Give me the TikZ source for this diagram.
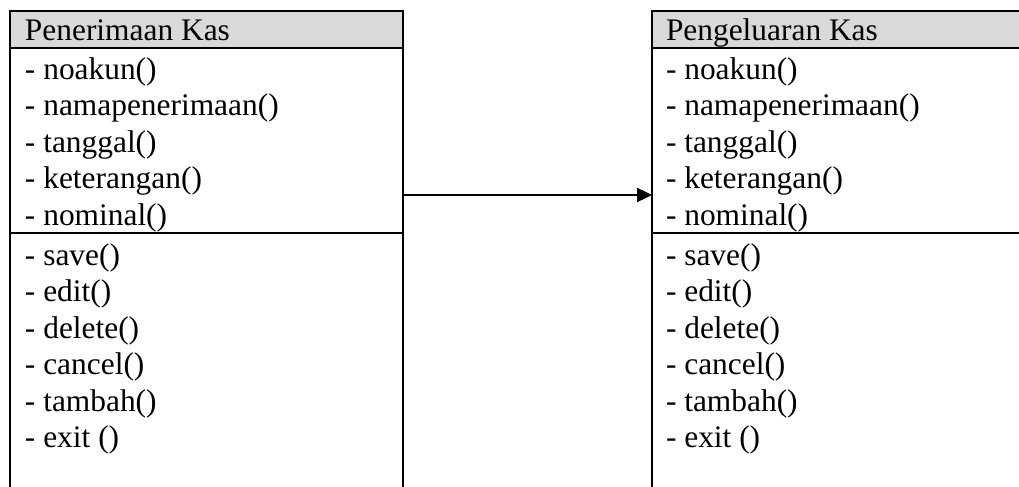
\documentclass[tikz,border=0pt]{standalone}
\usepackage{fontspec}
\setmainfont{Liberation Serif}
\usetikzlibrary{arrows.meta}
\definecolor{headgray}{RGB}{217,217,217}
\begin{document}
\begin{tikzpicture}[x=0.5pt,y=-0.5pt,
  classbox/.style={draw, line width=1.4pt, inner sep=0pt, outer sep=0pt, rectangle},
  headbox/.style={classbox, fill=headgray},
  item/.style={anchor=base west, inner sep=0pt, outer sep=0pt, font=\fontsize{15.7}{18}\selectfont},
  sep/.style={line width=1.4pt},
  link/.style={-{Triangle[length=7.5pt,width=7pt]}, line width=1.2pt}]
\useasboundingbox (0,0) rectangle (1019,487);
\clip (0,0) rectangle (1019,487);
% left class
\node[classbox, minimum width=196.5pt, minimum height=244.5pt] (Lbox) at (206.5,255.5) {};
\node[headbox, minimum width=196.5pt, minimum height=18.5pt] (Lhead) at (206.5,29.5) {};
\draw[sep] (Lbox.west |- 0,233) -- (Lbox.east |- 0,233);
\node[item] (Lt) at (25,40) {Penerimaan Kas};
\node[item] (La1) at (25,79) {- noakun()};
\node[item] (La2) at (25,115.5) {- namapenerimaan()};
\node[item] (La3) at (25,152) {- tanggal()};
\node[item] (La4) at (25,188.5) {- keterangan()};
\node[item] (La5) at (25,225) {- nominal()};
\node[item] (Lm1) at (25,265) {- save()};
\node[item] (Lm2) at (25,301.5) {- edit()};
\node[item] (Lm3) at (25,338) {- delete()};
\node[item] (Lm4) at (25,374.5) {- cancel()};
\node[item] (Lm5) at (25,411) {- tambah()};
\node[item] (Lm6) at (25,447.5) {- exit ()};
% right class
\node[classbox, minimum width=189pt, minimum height=244.5pt] (Rbox) at (841,255.5) {};
\node[headbox, minimum width=189pt, minimum height=18.5pt] (Rhead) at (841,29.5) {};
\draw[sep] (Rbox.west |- 0,233) -- (Rbox.east |- 0,233);
\node[item] (Rt) at (666,40) {Pengeluaran Kas};
\node[item] (Ra1) at (666,79) {- noakun()};
\node[item] (Ra2) at (666,115.5) {- namapenerimaan()};
\node[item] (Ra3) at (666,152) {- tanggal()};
\node[item] (Ra4) at (666,188.5) {- keterangan()};
\node[item] (Ra5) at (666,225) {- nominal()};
\node[item] (Rm1) at (666,265) {- save()};
\node[item] (Rm2) at (666,301.5) {- edit()};
\node[item] (Rm3) at (666,338) {- delete()};
\node[item] (Rm4) at (666,374.5) {- cancel()};
\node[item] (Rm5) at (666,411) {- tambah()};
\node[item] (Rm6) at (666,447.5) {- exit ()};
% association
\coordinate (ay) at (0,195);
\draw[link] (Lbox.east |- ay) -- (Rbox.west |- ay);
\end{tikzpicture}
\end{document}
